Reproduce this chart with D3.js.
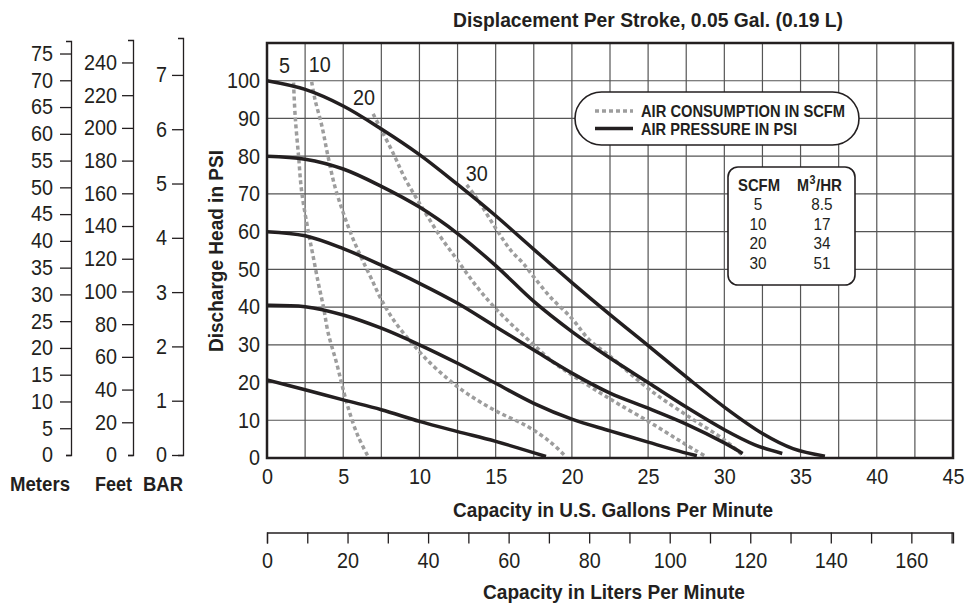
<!DOCTYPE html>
<html>
<head>
<meta charset="utf-8">
<script src="https://cdn.jsdelivr.net/npm/d3@7"></script>
<style>
  body { margin: 0; background: #fff; }
  svg text { fill: #231f20; }
</style>
</head>
<body>
<svg id="chart" width="980" height="609"></svg>
<script>
const FONT = '"Liberation Sans", Arial, sans-serif';

// pressure curves: [gpm, psi]
const psi100 = [[0,100],[2.5,97.7],[5,93.3],[7.5,87.2],[10,80.4],[12.5,72.5],[15,64.2],[17.5,55.3],[20,46.5],[22.5,38],[25,29.8],[27.5,21.5],[30,13.5],[32.5,6.5],[34.5,2.5],[36.6,0.5]];
const psi80 = [[0,80],[2.5,79.2],[5,76.6],[7.5,72],[10,66.5],[12.5,59.5],[15,51],[17.5,41.5],[20,33.5],[22.5,26.5],[25,20],[27.5,13.5],[30,7.5],[32,3.5],[33.8,1.2]];
const psi60 = [[0,60],[2.5,58.9],[5,55.5],[7.5,51.1],[10,46.3],[12.5,41],[15,34.8],[17.5,28.6],[20,22.5],[22.5,17.2],[25,13.2],[27.5,9],[30,4],[31.2,1.2]];
const psi40 = [[0,40.5],[2.5,40.1],[5,37.9],[7.5,34.4],[10,30],[12.5,25.1],[15,19.8],[17.5,14.5],[20,10.3],[22.5,7.2],[25,4.2],[27.3,1.5],[28.2,0.6]];
const psi20 = [[0,20.7],[2.5,18.1],[5,15.4],[7.5,12.8],[10,9.7],[12.5,7],[15,4.4],[18.3,0.4]];

// air consumption curves: [gpm, psi]
const scfm5 = [[1.74,99.5],[1.85,90.5],[2.07,80],[2.28,70.4],[2.72,59.8],[3,54],[3.37,46.3],[3.7,40.1],[4.02,33],[4.57,25.1],[5,18.1],[5.43,11.9],[5.98,5.7],[6.63,0.4]];
const scfm10 = [[2.93,99.7],[3.15,95],[3.6,88],[4,80],[4.45,72],[5,65],[5.6,58.5],[6.2,53],[6.85,47.5],[7.5,42],[8.4,36],[9.5,30.5],[10.5,26],[11.85,21],[13.15,17],[15,12.5],[17.07,8.4],[18.6,4.2],[19.6,0.4]];
const scfm20 = [[6.96,91.2],[7.5,87],[8.37,80],[9,74.5],[9.78,69],[10.54,64],[11.4,58.5],[12.3,53.5],[13.15,48.7],[14,44.2],[15,39.6],[16.2,34.8],[17.5,30],[18.8,25.3],[20,22],[21.84,17.3],[23.1,14.2],[25.1,9.5],[26.9,5],[28.2,1.8],[28.8,0.4]];
const scfm30 = [[13.1,72.4],[13.8,68.6],[15.05,60.6],[16,55],[16.8,51.6],[17.5,48],[18.6,42.6],[20,37],[21.1,31.5],[22.5,27],[25.1,18.1],[27.8,10.6],[30,4.8],[31.3,0.4]];

const pressureCurves = [psi100, psi80, psi60, psi40, psi20];
const airCurves = [scfm5, scfm10, scfm20, scfm30];
const airLabels = ["5", "10", "20", "30"];

const gpmTicks = d3.range(0, 46, 5);
const psiTicks = d3.range(0, 101, 10);
const lpmTicks = d3.range(0, 171, 10);
const meterTicks = d3.range(0, 76, 5);
const feetTicks = d3.range(0, 241, 20);
const barTicks = d3.range(0, 8, 1);

const tableScfm = ["5", "10", "20", "30"];
const tableM3hr = ["8.5", "17", "34", "51"];

const svg = d3.select("#chart");
svg.append("rect").attr("width", 980).attr("height", 609).attr("fill", "#fff");

const x = d3.scaleLinear().domain([0, 45]).range([267, 953]);
const y = d3.scaleLinear().domain([0, 110]).range([458, 43]);
const lpm = d3.scaleLinear().domain([0, 45 * 3.78541]).range([267, 953]);

// condensed look: squeeze glyphs horizontally
function squeeze(sel, k) {
  sel.each(function() {
    const w = this.getComputedTextLength();
    this.setAttribute("textLength", w * k);
    this.setAttribute("lengthAdjust", "spacingAndGlyphs");
  });
}

// grid
const grid = svg.append("g").attr("stroke", "#555").attr("stroke-width", 1.2);
grid.selectAll("line.v").data(d3.range(2.5, 45, 2.5)).join("line")
  .attr("x1", d => x(d)).attr("x2", d => x(d))
  .attr("y1", y(0)).attr("y2", y(110));
grid.selectAll("line.h").data(d3.range(10, 110, 10)).join("line")
  .attr("x1", x(0)).attr("x2", x(45))
  .attr("y1", d => y(d)).attr("y2", d => y(d));

// curves
const line = d3.line().x(d => x(d[0])).y(d => y(d[1])).curve(d3.curveCatmullRom.alpha(0.5));

svg.append("g").selectAll("path").data(airCurves).join("path")
  .attr("d", line)
  .attr("fill", "none")
  .attr("stroke", "#9d9d9d")
  .attr("stroke-width", 3.5)
  .attr("stroke-dasharray", "4,3");

svg.append("g").selectAll("path").data(pressureCurves).join("path")
  .attr("d", line)
  .attr("fill", "none")
  .attr("stroke", "#231f20")
  .attr("stroke-width", 3.5);

// curve labels
const lblDx = [-9, 8, -9, 10];
const lblDy = [-10, -10, -9, -4];
const curveLbl = svg.append("g").selectAll("text").data(airCurves).join("text")
  .attr("x", (d, i) => x(d[0][0]) + lblDx[i])
  .attr("y", (d, i) => y(d[0][1]) + lblDy[i])
  .attr("text-anchor", "middle")
  .style("font-family", FONT).style("font-size", "21.5px")
  .text((d, i) => airLabels[i]);
squeeze(curveLbl, 0.92);

// plot border
svg.append("rect")
  .attr("x", x(0)).attr("y", y(110))
  .attr("width", x(45) - x(0)).attr("height", y(0) - y(110))
  .attr("fill", "none").attr("stroke", "#231f20").attr("stroke-width", 2.5);

function styleAxis(g) {
  const t = g.selectAll("text").style("font-family", FONT).style("font-size", "21.5px").attr("fill", "#231f20");
  g.selectAll("line, path").attr("stroke", "#231f20").attr("stroke-width", 1.3);
  squeeze(t.filter(function() { return this.textContent !== ""; }), 0.92);
}

// psi axis
const gy = svg.append("g").attr("transform", `translate(${x(0)},0)`)
  .call(d3.axisLeft(y).tickValues(psiTicks).tickSize(0).tickPadding(7));
gy.select(".domain").remove();
styleAxis(gy);

// gpm axis
const gx = svg.append("g").attr("transform", `translate(0,${y(0)})`)
  .call(d3.axisBottom(x).tickValues(gpmTicks).tickSize(0).tickPadding(11));
gx.select(".domain").remove();
styleAxis(gx);

// liters axis
const gl = svg.append("g").attr("transform", "translate(0,532.5)")
  .call(d3.axisBottom(lpm).tickValues(lpmTicks).tickSize(11).tickSizeOuter(11).tickPadding(9)
    .tickFormat(d => d % 20 === 0 ? d : ""));
styleAxis(gl);

// left conversion axes
const mScale = d3.scaleLinear().domain([0, 110 * 0.70307]).range([455, 41]);
const fScale = d3.scaleLinear().domain([0, 110 * 2.3067]).range([455, 40]);
const bScale = d3.scaleLinear().domain([0, 7.68]).range([455, 38]);

const gm = svg.append("g").attr("transform", "translate(71,0)")
  .call(d3.axisLeft(mScale).tickValues(meterTicks).tickSize(11).tickSizeOuter(5).tickPadding(7));
gm.selectAll(".tick").filter(d => d === 0).select("line").attr("x2", -5);
styleAxis(gm);

const gf = svg.append("g").attr("transform", "translate(133,0)")
  .call(d3.axisLeft(fScale).tickValues(feetTicks).tickSize(11).tickSizeOuter(5).tickPadding(5));
gf.selectAll(".tick").filter(d => d === 0).select("line").attr("x2", -5);
styleAxis(gf);

const gb = svg.append("g").attr("transform", "translate(183,0)")
  .call(d3.axisLeft(bScale).tickValues(barTicks).tickSize(11).tickSizeOuter(5).tickPadding(5));
styleAxis(gb);

// titles
function title(txt, tx, ty, size, len, rot) {
  svg.append("text")
    .attr("transform", `translate(${tx},${ty})` + (rot ? ` rotate(${rot})` : ""))
    .attr("text-anchor", "middle")
    .attr("textLength", len).attr("lengthAdjust", "spacingAndGlyphs")
    .style("font-family", FONT).style("font-size", size).style("font-weight", "bold")
    .text(txt);
}
title("Displacement Per Stroke, 0.05 Gal. (0.19 L)", 648, 27, "20px", 390);
title("Capacity in U.S. Gallons Per Minute", 613, 517, "21px", 320);
title("Capacity in Liters Per Minute", 614, 599, "21px", 262);
title("Discharge Head in PSI", 223, 251, "21px", 202, -90);
title("Meters", 40, 491, "21px", 60);
title("Feet", 113.5, 491, "21px", 37);
title("BAR", 163, 491, "21px", 40);

// legend
const lg = svg.append("g");
lg.append("rect").attr("x", 575).attr("y", 92).attr("width", 284).attr("height", 53).attr("rx", 26.5)
  .attr("fill", "#fff").attr("stroke", "#231f20").attr("stroke-width", 1.6);
lg.append("line").attr("x1", 595).attr("x2", 633).attr("y1", 111).attr("y2", 111)
  .attr("stroke", "#9d9d9d").attr("stroke-width", 3.5).attr("stroke-dasharray", "4,3");
lg.append("line").attr("x1", 595).attr("x2", 633).attr("y1", 128.5).attr("y2", 128.5)
  .attr("stroke", "#231f20").attr("stroke-width", 3.5);
lg.append("text").attr("x", 641).attr("y", 116.5)
  .attr("textLength", 204).attr("lengthAdjust", "spacingAndGlyphs")
  .style("font-family", FONT).style("font-size", "16.5px").style("font-weight", "bold")
  .text("AIR CONSUMPTION IN SCFM");
lg.append("text").attr("x", 641).attr("y", 134.5)
  .attr("textLength", 156).attr("lengthAdjust", "spacingAndGlyphs")
  .style("font-family", FONT).style("font-size", "16.5px").style("font-weight", "bold")
  .text("AIR PRESSURE IN PSI");

// conversion table
const tb = svg.append("g");
tb.append("rect").attr("x", 728).attr("y", 167).attr("width", 127).attr("height", 118).attr("rx", 10)
  .attr("fill", "#fff").attr("stroke", "#231f20").attr("stroke-width", 1.6);
function head(txt, tx, ty, size, len) {
  tb.append("text").attr("x", tx).attr("y", ty)
    .attr("textLength", len).attr("lengthAdjust", "spacingAndGlyphs")
    .style("font-family", FONT).style("font-size", size).style("font-weight", "bold")
    .text(txt);
}
head("SCFM", 738, 191, "16.5px", 42);
head("M", 797, 191, "16.5px", 12);
head("3", 809.5, 184, "12px", 6);
head("/HR", 816, 191, "16.5px", 26);
const cellS = tb.selectAll("text.s").data(tableScfm).join("text")
  .attr("x", 758).attr("y", (d, i) => 210 + i * 19.5).attr("text-anchor", "middle")
  .style("font-family", FONT).style("font-size", "17px").text(d => d);
const cellM = tb.selectAll("text.m").data(tableM3hr).join("text")
  .attr("x", 822).attr("y", (d, i) => 210 + i * 19.5).attr("text-anchor", "middle")
  .style("font-family", FONT).style("font-size", "17px").text(d => d);
squeeze(cellS, 0.9);
squeeze(cellM, 0.9);
</script>
</body>
</html>
